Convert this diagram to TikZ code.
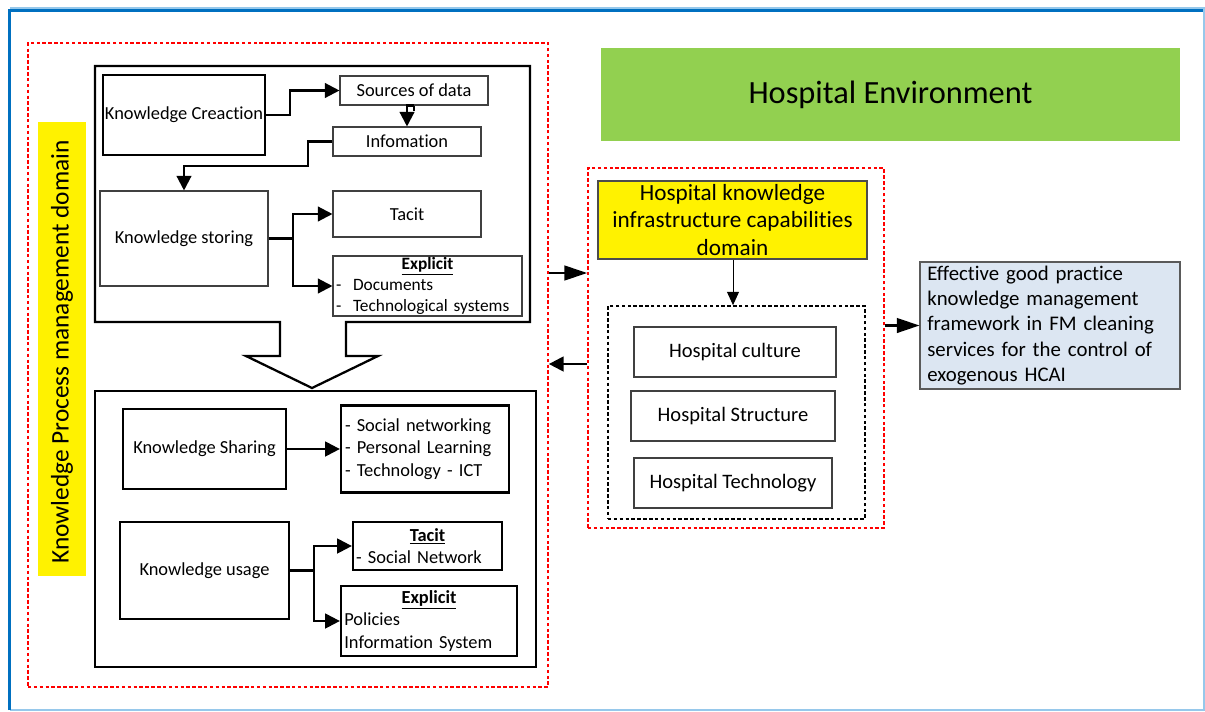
\documentclass[tikz,border=0pt]{standalone}
\usepackage{fontspec}
\setmainfont{Carlito}[Ligatures=NoCommon]
\usetikzlibrary{arrows.meta}
\definecolor{frameblue}{RGB}{0,112,192}
\definecolor{framelight}{RGB}{150,200,235}
\definecolor{envgreen}{RGB}{146,208,80}
\definecolor{outcomefill}{RGB}{220,230,242}
\definecolor{outcomeline}{RGB}{90,90,90}
\tikzset{
  sz/.style 2 args={minimum width=#1*0.75pt, minimum height=#2*0.75pt, inner sep=0pt},
  fs/.style={font=\fontsize{#1}{#1}\selectfont},
  thickbox/.style={draw=black, line width=1.7pt, fill=white, align=center},
  thinbox/.style={draw=black!75, line width=0.8pt, fill=white, align=center},
  reddash/.style={draw=red, line width=1.3pt, dash pattern=on 2.6pt off 1.8pt},
  blackdash/.style={draw=black, line width=1.3pt, dash pattern=on 2.6pt off 1.8pt},
  conn/.style={draw=black, line width=1.7pt, -{Triangle[length=11pt,width=11pt]}},
  bigconn/.style={draw=black, line width=1.7pt, -{Triangle[length=17pt,width=11pt]}},
  thinconn/.style={draw=black, line width=0.75pt, -{Triangle[length=10pt,width=9pt]}},
}
\begin{document}
\begin{tikzpicture}[x=0.75pt, y=-0.75pt]
  \useasboundingbox (0,0) rectangle (1205,711);
  \fill[white] (0,0) rectangle (1205,711);

  % outer frame
  \draw[framelight, line width=1pt] (9.5,8) -- (1204,8) -- (1204,710) -- (9.5,710);
  \draw[frameblue, line width=2.6pt] (9.5,710) -- (9.5,10.5) -- (1203,10.5);

  % ---------------- knowledge process management domain ----------------
  \node[reddash, sz={520}{644}] (kpm) at (288,365) {};
  \node[fill=yellow, sz={48}{454}] (kpmlabel) at (62,349) {};
  \node[rotate=90, fs=19] (kpmtext) at (62,352) {Knowledge Process management domain};

  % upper process box with the block arrow leaving its lower edge
  \draw[line width=1.7pt, line join=miter] (280,322) -- (95,322) -- (95,66) -- (530,66) -- (530,322)
     -- (346,322) -- (346,356) -- (378,356) -- (312,388) -- (246,356) -- (280,356) -- cycle;

  \node[thickbox, sz={162}{80}, fs=13.8] (kc) at (184,115) {Knowledge Creaction};
  \node[thinbox, sz={148}{29}, fs=13.8] (src) at (414,90.5) {Sources of data};
  \node[thinbox, sz={148}{29}, fs=13.8] (info) at (407,141.5) {Infomation};
  \node[thinbox, sz={168}{95}, fs=13.8] (ks) at (184,238.5) {Knowledge storing};
  \node[thinbox, sz={148}{46}, fs=13.8] (tac1) at (407,214) {Tacit};
  \node[thinbox, sz={189}{60}, text width=137pt, align=left,
        font=\fontsize{13}{15.6}\selectfont] (exp1) at (427.5,286)
     {\makebox[\linewidth]{\underline{\textbf{Explicit}}}\\-\ \ Documents\\-\ \ Technological systems};

  \draw[conn] (kc.east) -- (290,115) |- (src.west);
  \draw[line width=1.4pt] (src.south) -- ++(0,5);
  \draw[conn] (src.south) -| (info.north);
  \draw[conn] (info.west) -| (308,166) -| (ks.north);
  \draw[conn] (ks.east) -- (293,238.5) |- (tac1.west);
  \draw[conn] (293,238.5) |- (exp1.west);

  % lower process box
  \node[thickbox, sz={441}{276}] (lower) at (315.5,529) {};
  \node[thickbox, sz={163}{80}, fs=13.8] (ksh) at (204.5,449) {Knowledge Sharing};
  \node[thickbox, sz={168}{87}, text width=120pt, align=left,
        font=\fontsize{13.8}{16.9}\selectfont] (shl) at (425,449)
     {- Social networking\\- Personal Learning\\- Technology - ICT};
  \node[thickbox, sz={169}{97}, fs=13.8] (ku) at (204.5,570.5) {Knowledge usage};
  \node[thickbox, sz={149}{48}, text width=107pt, align=left,
        font=\fontsize{13.8}{16.9}\selectfont] (tac2) at (427.5,546)
     {\makebox[\linewidth]{\underline{\textbf{Tacit}}}\\- Social Network};
  \node[thickbox, sz={176}{70}, text width=127pt, align=left,
        font=\fontsize{13.8}{16.9}\selectfont] (exp2) at (429,621)
     {\makebox[\linewidth]{\underline{\textbf{Explicit}}}\\Policies\\Information System};

  \draw[conn] (ksh.east) -- (ksh.east -| shl.west);
  \draw[conn] (ku.east) -- (314,570.5) |- (tac2.west);
  \draw[conn] (314,570.5) |- (exp2.west);

  % ---------------- hospital environment ----------------
  \node[fill=envgreen, sz={579}{93}, fs=24.3] (env) at (890.5,94.5) {Hospital Environment};

  \node[reddash, sz={296}{360}] (hkic) at (736,348) {};
  \node[draw=black!70, line width=0.8pt, fill=yellow, sz={269}{78}, align=center,
        font=\fontsize{17.4}{20.3}\selectfont] (hkictitle) at (732.5,220)
     {Hospital knowledge\\infrastructure capabilities\\domain};
  \node[blackdash, sz={257}{213}] (caps) at (736.5,412.5) {};
  \node[thinbox, sz={202}{50}, fs=15.4] (hc) at (735,352) {Hospital culture};
  \node[thinbox, sz={204}{50}, fs=15.4] (hs) at (733,416) {Hospital Structure};
  \node[thinbox, sz={198}{50}, fs=15.4] (ht) at (733,483) {Hospital Technology};

  \draw[thinconn] (hkictitle.south -| 733,0) -- (caps.north -| 733,0);

  \node[draw=outcomeline, line width=0.8pt, fill=outcomefill, sz={260}{127},
        text width=184pt, align=left,
        font=\fontsize{15.6}{18.8}\selectfont] (eff) at (1050,325.5)
     {Effective good practice\\knowledge management\\framework in FM cleaning\\services for the control of\\exogenous HCAI};

  % links between the domains and to the outcome
  \draw[bigconn] (kpm.east |- 0,273) -- (hkic.west |- 0,273);
  \draw[conn] (hkic.west |- 0,364) -- (kpm.east |- 0,364);
  \draw[bigconn] (hkic.east |- 0,325.5) -- (eff.west);
\end{tikzpicture}
\end{document}
